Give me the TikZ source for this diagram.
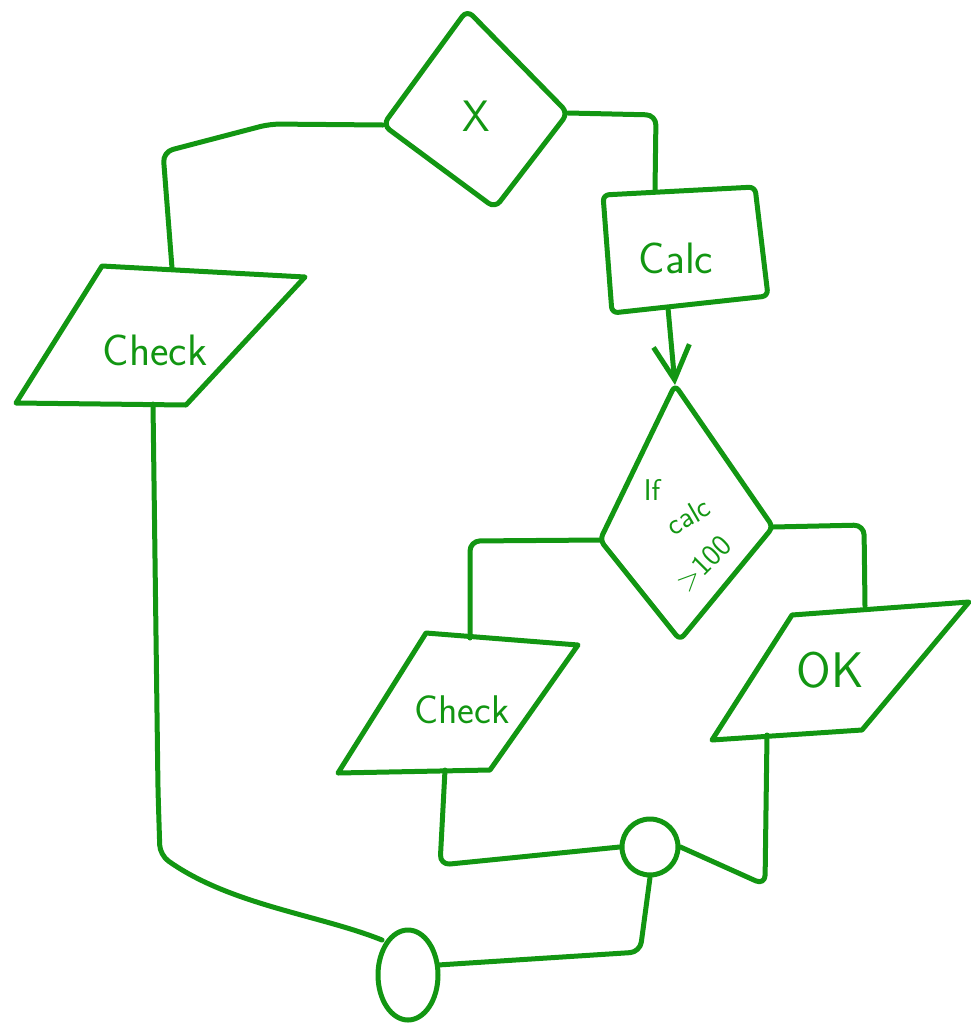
\documentclass[tikz,border=0pt]{standalone}
\usetikzlibrary{arrows.meta,shapes.geometric}
\definecolor{pen}{RGB}{18,150,18}
\begin{document}
\begin{tikzpicture}[x=1pt,y=-1pt,
  every path/.style={draw=pen, line width=5pt, line cap=round, line join=round},
  label/.style={draw=none, text=pen, font=\sffamily\fontsize{44}{48}\selectfont, inner sep=0pt},
  small/.style={label, font=\sffamily\fontsize{30}{32}\selectfont},
  wire/.style={rounded corners=10pt},
  endpt/.style={draw=none, circle, minimum size=56pt, inner sep=0pt}]
\useasboundingbox[draw=none] (0,0) rectangle (971,1029);
% --- top decision X
\coordinate (xt) at (467,10);
\coordinate (xr) at (568,113);
\coordinate (xb) at (495,208);
\coordinate (xl) at (383,125);
\draw[rounded corners=8pt] (xt) -- (xr) -- (xb) -- (xl) -- cycle;
\node[label] (xlab) at (476,116) {X};
% --- Calc box
\coordinate (c1) at (603,195);
\coordinate (c2) at (755,187);
\coordinate (c3) at (768,296);
\coordinate (c4) at (612,313);
\draw[rounded corners=6pt] (c1) -- (c2) -- (c3) -- (c4) -- cycle;
\node[label] (calc) at (676,258) {Calc};
\coordinate (calctop) at (655,191);
\coordinate (calcbot) at (668,308);
% --- Check (left)
\coordinate (p1) at (102,266);
\coordinate (p2) at (305,277);
\coordinate (p3) at (186,405);
\coordinate (p4) at (16,403);
\draw (p1) -- (p2) -- (p3) -- (p4) -- cycle;
\node[label] (check1) at (155,350) {Check};
\coordinate (p1top) at (172,268);
\coordinate (p1bot) at (153,404);
% --- decision if calc > 100
\coordinate (dt) at (675,385);
\coordinate (dr) at (773,527);
\coordinate (db) at (680,640);
\coordinate (dl) at (600,540);
\draw[rounded corners=6pt] (dt) -- (dr) -- (db) -- (dl) -- cycle;
\node[small] (condif) at (652,490) {If};
\node[small, rotate=30] (condcalc) at (688,516) {calc};
\node[small, rotate=45] (condval) at (704,564) {>100};
% --- Check (lower)
\coordinate (q1) at (426,633);
\coordinate (q2) at (578,645);
\coordinate (q3) at (490,770);
\coordinate (q4) at (338,773);
\draw (q1) -- (q2) -- (q3) -- (q4) -- cycle;
\node[label, font=\sffamily\fontsize{40}{44}\selectfont] (check2) at (462,710) {Check};
\coordinate (q1top) at (470,638);
\coordinate (q1bot) at (445,770);
% --- OK
\coordinate (r1) at (792,615);
\coordinate (r2) at (969,602);
\coordinate (r3) at (862,730);
\coordinate (r4) at (712,740);
\draw (r1) -- (r2) -- (r3) -- (r4) -- cycle;
\node[label, font=\sffamily\fontsize{50}{54}\selectfont] (ok) at (830,670) {OK};
\coordinate (r1top) at (865,606);
\coordinate (r1bot) at (767,735);
% --- junctions
\node[endpt, draw=pen] (j1) at (650,847) {};
\draw (408,975) ellipse [x radius=30, y radius=45];
\coordinate (e) at (408,975);
\coordinate (eleft) at (382,940);
\coordinate (eright) at (438,965);
% --- connectors
\draw[wire] (xl) -- (270,124) -- (163,152) -- (p1top);
\draw[wire] (xr) -- (656,115) -- (calctop);
\draw[-{Straight Barb[length=34pt,width=36pt]}] (calcbot) -- (dt);
\draw[wire] (dl) -- (470,541) -- (q1top);
\draw[wire] (dr) -- (864,525) -- (r1top);
\draw[wire] (p1bot) -- (158,790) -- (160,855) .. controls (230,905) and (320,915) .. (eleft);
\draw[wire] (q1bot) -- (440,865) -- (j1.west);
\draw[wire] (r1bot) -- (765,885) -- (j1.east);
\draw[wire] (j1.south) -- (640,952) -- (eright);
\end{tikzpicture}
\end{document}
